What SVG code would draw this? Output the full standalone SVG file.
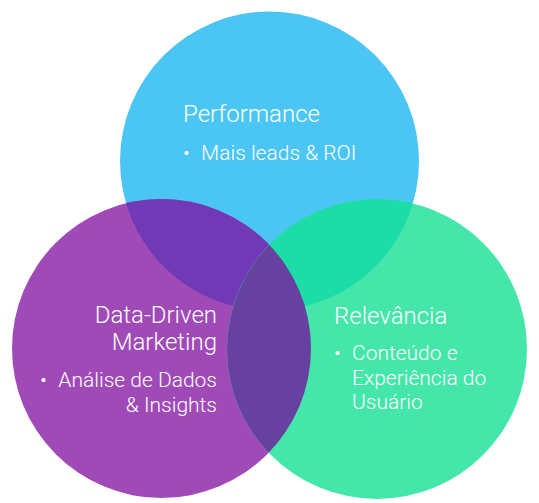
<svg xmlns="http://www.w3.org/2000/svg" width="539" height="503" viewBox="0 0 539 503">
<style>
text{font-family:Roboto,"Open Sans","Liberation Sans",sans-serif;font-weight:300;fill:#ffffff}
.t{font-size:24px}
.b{font-size:21px}
.r{text-anchor:end}
</style>
<defs>
<clipPath id="cb"><circle cx="269.5" cy="161" r="149.5"/></clipPath>
<clipPath id="cp"><circle cx="161.5" cy="348.5" r="149.5"/></clipPath>
</defs>
<rect width="539" height="503" fill="#ffffff"/>
<g id="performance">
<circle cx="269.5" cy="161" r="149.5" fill="#4BC5F4"/>
</g>
<g id="data-driven">
<circle cx="161.5" cy="348.5" r="149.5" fill="#A04AB8"/>
<circle cx="161.5" cy="348.5" r="149.5" fill="#7239B7" clip-path="url(#cb)"/>
</g>
<g id="relevancia">
<circle cx="377" cy="349" r="150" fill="#44E6AA"/>
<circle cx="377" cy="349" r="150" fill="#1CDCA8" clip-path="url(#cb)"/>
<circle cx="377" cy="349" r="150" fill="#6641A0" clip-path="url(#cp)"/>
</g>
<g id="labels">
<text class="t" x="183" y="122">Performance</text>
<text class="b" x="183" y="160">•</text>
<text class="b" x="201" y="160">Mais leads &amp; ROI</text>
<text class="t r" x="217" y="323">Data-Driven</text>
<text class="t r" x="217" y="350">Marketing</text>
<text class="b r" x="217" y="387">Análise de Dados</text>
<text class="b" x="40" y="387">•</text>
<text class="b r" x="217" y="412">&amp; Insights</text>
<text class="t" x="334" y="324">Relevância</text>
<text class="b" x="334" y="360">•</text>
<text class="b" x="352" y="360">Conteúdo e</text>
<text class="b" x="352" y="385">Experiência do</text>
<text class="b" x="352" y="409">Usuário</text>
</g>
</svg>
